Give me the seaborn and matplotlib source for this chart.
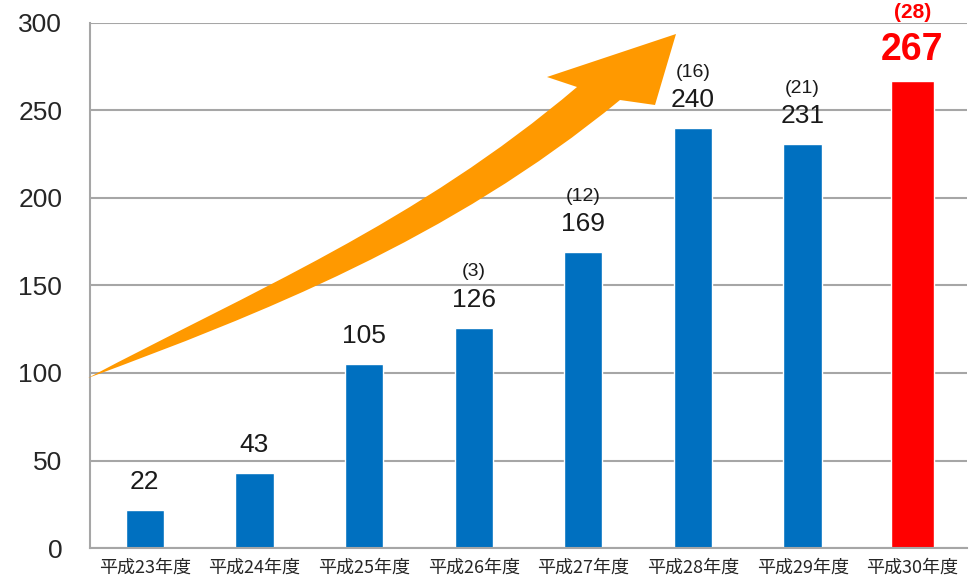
import matplotlib
matplotlib.use("Agg")
import matplotlib.pyplot as plt
import seaborn as sns
from matplotlib.path import Path
from matplotlib.patches import PathPatch
from matplotlib.transforms import Affine2D

categories = ["平成23年度", "平成24年度", "平成25年度", "平成26年度",
              "平成27年度", "平成28年度", "平成29年度", "平成30年度"]
values = [22, 43, 105, 126, 169, 240, 231, 267]
paren_labels = ["", "", "", "(3)", "(12)", "(16)", "(21)", "(28)"]
yticks = [0, 50, 100, 150, 200, 250, 300]

BLUE = "#0070C0"
RED = "#FF0000"
ORANGE = "#FF9900"
GRID = "#A6A6A6"
colors = [BLUE] * 7 + [RED]

W, H = 977, 581

sns.set_theme(style="white")
plt.rcParams["font.family"] = ["Liberation Sans", "Noto Sans CJK JP", "DejaVu Sans"]

fig = plt.figure(figsize=(W / 100, H / 100), dpi=100)
ax = fig.add_axes([90 / W, 33 / H, 877 / W, 525 / H])

sns.barplot(x=categories, y=values, hue=categories, palette=colors,
            legend=False, width=0.35, ax=ax, saturation=1)

# last bar slightly wider
last = ax.patches[-1]
cx = last.get_x() + last.get_width() / 2
last.set_width(0.39)
last.set_x(cx - 0.39 / 2)

ax.set_xlim(-0.5, 7.5)
ax.set_ylim(0, 300)
ax.set_yticks(yticks)
ax.set_yticklabels([str(t) for t in yticks], fontsize=19, family="Liberation Sans")
ax.set_xticks(range(len(categories)))
ax.set_xticklabels(categories, fontsize=13, family=["Noto Sans CJK JP", "DejaVu Sans"])
ax.tick_params(axis="both", length=0)
ax.tick_params(axis="y", pad=20)
ax.tick_params(axis="x", pad=8)
ax.set_xlabel("")
ax.set_ylabel("")

ax.yaxis.grid(True, color=GRID, linewidth=1.5)
ax.set_axisbelow(True)
for s in ["top", "right"]:
    ax.spines[s].set_visible(False)
for s in ["left", "bottom"]:
    ax.spines[s].set_color(GRID)
    ax.spines[s].set_linewidth(1.5)

for i, (v, p) in enumerate(zip(values, paren_labels)):
    if i == len(values) - 1:
        ax.annotate(str(v), (i, v), xytext=(0, 22), textcoords="offset points",
                    ha="center", va="center", fontsize=27, fontweight="bold",
                    color=RED, family="Liberation Sans", annotation_clip=False)
        ax.annotate(p, (i, v), xytext=(0, 49), textcoords="offset points",
                    ha="center", va="center", fontsize=15, fontweight="bold",
                    color=RED, family="Liberation Sans", annotation_clip=False)
    else:
        ax.annotate(str(v), (i, v), xytext=(0, 20), textcoords="offset points",
                    ha="center", va="center", fontsize=19, color="#1a1a1a",
                    family="Liberation Sans", annotation_clip=False)
        if p:
            ax.annotate(p, (i, v), xytext=(0, 40), textcoords="offset points",
                        ha="center", va="center", fontsize=14, color="#1a1a1a",
                        family="Liberation Sans", annotation_clip=False)

# Decorative curved arrow (outline in image-pixel space, y downward)
arrow_top_edge = [(88, 378), (248, 293), (417, 223), (577, 87)]
arrow_head = [(547, 77), (676, 34), (655, 105), (620, 100)]
arrow_bottom_edge = [(620, 100), (450, 240), (258, 315), (88, 378)]
verts = ([arrow_top_edge[0]] + arrow_top_edge[1:] + arrow_head
         + arrow_bottom_edge[1:] + [arrow_top_edge[0]])
codes = ([Path.MOVETO] + [Path.CURVE4] * 3 + [Path.LINETO] * 4
         + [Path.CURVE4] * 3 + [Path.CLOSEPOLY])
img_to_display = Affine2D().scale(1, -1).translate(0, H)
arrow = PathPatch(Path(verts, codes), facecolor=ORANGE, edgecolor="none",
                  transform=img_to_display, zorder=5, clip_on=False)
fig.add_artist(arrow)

fig.savefig("out.png", dpi=100)
